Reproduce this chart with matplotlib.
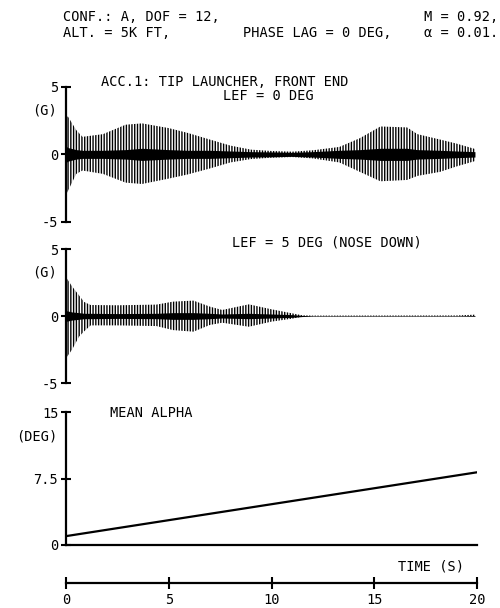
import numpy as np
import matplotlib.pyplot as plt

plt.rcParams['font.family'] = ['DejaVu Sans Mono']
plt.rcParams['hatch.linewidth'] = 1.0
plt.rcParams['hatch.color'] = 'black'

# LEF = 0 deg: envelope of the acceleration trace (G)
t1 = [0, 0.1, 0.5, 0.8, 1.8, 2.9, 3.7, 5.0, 5.9, 7.0, 8.0, 9.0, 10, 11, 12,
      13.3, 14.3, 15.3, 16.6, 17.1, 18.2, 19.0, 19.9]
up1 = [2.8, 2.8, 1.8, 1.3, 1.5, 2.2, 2.3, 1.95, 1.6, 1.1, 0.65, 0.35, 0.25, 0.2, 0.3,
       0.55, 1.2, 2.07, 2.0, 1.5, 1.1, 0.8, 0.4]
lo1 = [-3.0, -2.7, -1.45, -1.2, -1.45, -2.1, -2.2, -1.8, -1.5, -1.05, -0.6, -0.35, -0.25, -0.2, -0.3,
       -0.6, -1.3, -2.0, -1.9, -1.6, -1.3, -0.9, -0.5]
core1 = [0.6, 0.5, 0.35, 0.3, 0.3, 0.35, 0.45, 0.35, 0.3, 0.3, 0.25, 0.2, 0.18, 0.15, 0.2,
         0.3, 0.35, 0.45, 0.45, 0.35, 0.3, 0.25, 0.2]

# LEF = 5 deg (nose down)
t2 = [0, 0.3, 0.63, 0.88, 1.2, 2.5, 4.4, 5.2, 6.2, 7.0, 7.6, 8.9, 10.0, 11.0, 11.5, 12.0, 19.0, 19.9]
up2 = [2.9, 2.2, 1.55, 1.05, 0.82, 0.8, 0.85, 1.07, 1.15, 0.7, 0.45, 0.87, 0.5, 0.2, 0.05, 0.03, 0.04, 0.1]
lo2 = [-3.15, -2.5, -1.55, -1.15, -0.7, -0.7, -0.75, -1.05, -1.17, -0.67, -0.5, -0.8, -0.42, -0.2, -0.05,
       -0.02, -0.02, 0.0]
core2 = [0.4, 0.3, 0.25, 0.2, 0.2, 0.18, 0.2, 0.25, 0.25, 0.2, 0.15, 0.2, 0.15, 0.1, 0.04, 0.02, 0.02, 0.03]

# mean alpha (deg)
alpha_t = [0, 5, 10, 15, 20]
alpha_v = [1.0, 2.8, 4.6, 6.4, 8.2]

g_ticks = [-5, 0, 5]
g_labels = ['-5', '0', '5']
a_ticks = [0, 7.5, 15]
a_labels = ['0', '7.5', '15']
time_ticks = [0, 5, 10, 15, 20]
time_labels = ['0', '5', '10', '15', '20']

W, H = 500, 608
FS = 9.8
fig = plt.figure(figsize=(W / 100, H / 100), dpi=100)


def px(x, y):
    return x / W, 1 - y / H


def txt(x, y, s, ha='left'):
    fx, fy = px(x, y)
    fig.text(fx, fy, s, ha=ha, va='center', fontsize=FS)


def style(ax, ylim, ticks, labels):
    ax.set_xlim(0, 20)
    ax.set_ylim(ylim)
    for s in ['top', 'right', 'bottom']:
        ax.spines[s].set_visible(False)
    ax.spines['left'].set_linewidth(1.6)
    ax.set_xticks([])
    ax.set_yticks(ticks)
    ax.set_yticklabels(labels, fontsize=FS)
    ax.tick_params(axis='y', direction='inout', length=7, width=1.5, pad=2)
    ax.patch.set_visible(False)


left, width = 66 / W, 411 / W

ax1 = fig.add_axes([left, 1 - 221.7 / H, width, 134.7 / H])
style(ax1, (-5, 5), g_ticks, g_labels)
ax1.fill_between(t1, lo1, up1, facecolor='none', edgecolor='black', linewidth=0, hatch='||||||')
ax1.fill_between(t1, [-c for c in core1], core1, color='black', linewidth=0)

ax2 = fig.add_axes([left, 1 - 383 / H, width, 134 / H])
style(ax2, (-5, 5), g_ticks, g_labels)
ax2.fill_between(t2, lo2, up2, facecolor='none', edgecolor='black', linewidth=0, hatch='||||||')
ax2.fill_between(t2, [-c for c in core2], core2, color='black', linewidth=0)

ax3 = fig.add_axes([left, 1 - 545 / H, width, 133 / H])
style(ax3, (0, 15), a_ticks, a_labels)
ax3.spines['bottom'].set_visible(True)
ax3.spines['bottom'].set_linewidth(1.6)
ax3.plot(alpha_t, alpha_v, color='black', linewidth=1.6)

ax4 = fig.add_axes([left, 1 - 583 / H, width, 0.001])
ax4.set_xlim(0, 20)
for s in ['top', 'right', 'left']:
    ax4.spines[s].set_visible(False)
ax4.spines['bottom'].set_linewidth(1.6)
ax4.set_yticks([])
ax4.set_xticks(time_ticks)
ax4.set_xticklabels(time_labels, fontsize=FS)
ax4.tick_params(axis='x', direction='inout', length=9, width=1.5, pad=3)
ax4.patch.set_visible(False)

# header and captions
txt(63, 17, 'CONF.: A, DOF = 12,')
txt(498, 17, 'M = 0.92,', ha='right')
txt(63, 33, 'ALT. = 5K FT,')
txt(243, 33, 'PHASE LAG = 0 DEG,')
txt(498, 33, 'α = 0.01.', ha='right')
txt(101, 82, 'ACC.1: TIP LAUNCHER, FRONT END')
txt(223, 96, 'LEF = 0 DEG')
txt(232, 242, 'LEF = 5 DEG (NOSE DOWN)')
txt(110, 413, 'MEAN ALPHA')
txt(398, 567, 'TIME (S)')
txt(57, 110, '(G)', ha='right')
txt(57, 273, '(G)', ha='right')
txt(57, 437, '(DEG)', ha='right')

fig.savefig('out.png', dpi=100)
